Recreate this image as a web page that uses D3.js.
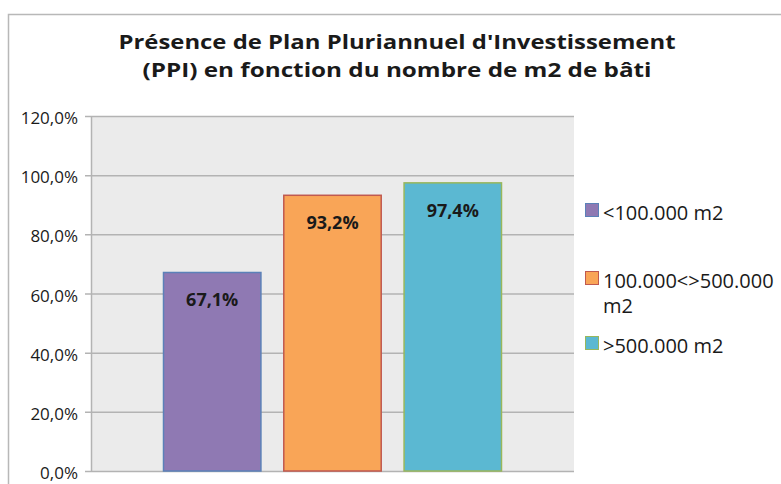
<!DOCTYPE html>
<html>
<head>
<meta charset="utf-8">
<script src="https://cdn.jsdelivr.net/npm/d3@7"></script>
<style>
  html, body { margin: 0; padding: 0; background: #fff; }
  svg { display: block; }
  text { font-family: "Open Sans", "DejaVu Sans", sans-serif; fill: #1a1a1a; }
</style>
</head>
<body>
<svg id="chart" width="781" height="484"></svg>
<script>
// Chart data
const titleLines = ["Présence de Plan Pluriannuel d'Investissement", "(PPI) en fonction du nombre de m2 de bâti"];
const series = ["<100.000 m2", "100.000<>500.000 m2", ">500.000 m2"];
const legendLines = [["<100.000 m2"], ["100.000<>500.000", "m2"], [">500.000 m2"]];
const values = [67.1, 93.2, 97.4];
const yTicks = [0, 20, 40, 60, 80, 100, 120];
const fills = ["#8f79b3", "#f9a557", "#5bb8d2"];
const strokes = ["#5b81b8", "#c0594f", "#98b75c"];

const svg = d3.select("#chart");
const plot = { left: 91, right: 574, top: 116, bottom: 471 };

// outer frame
svg.append("rect")
  .attr("x", 8.5).attr("y", 14.5).attr("width", 900).attr("height", 600)
  .attr("fill", "none").attr("stroke", "#b8b8b8").attr("stroke-width", 1.5);

// title, two lines
const title = svg.append("g");
const titleWidths = [557, 509];
titleLines.forEach((t, i) => {
  title.append("text")
    .attr("x", 397).attr("y", 49 + i * 27.5)
    .attr("text-anchor", "middle")
    .attr("font-size", 20).attr("font-weight", 700)
    .attr("textLength", titleWidths[i])
    .attr("lengthAdjust", "spacingAndGlyphs")
    .text(t);
});

// scales
const y = d3.scaleLinear().domain([0, 120]).range([plot.bottom, plot.top]);
const groupW = 338;
const gx0 = (plot.left + plot.right) / 2 - groupW / 2;
const x = d3.scaleBand().domain(series).range([gx0, gx0 + groupW]).paddingInner(0.19).paddingOuter(0);

// plot background
svg.append("rect")
  .attr("x", plot.left).attr("y", plot.top)
  .attr("width", plot.right - plot.left).attr("height", plot.bottom - plot.top)
  .attr("fill", "#ebebeb");

// gridlines and y axis
const yAxis = d3.axisLeft(y)
  .tickValues(yTicks)
  .tickSize(-(plot.right - plot.left))
  .tickSizeOuter(0)
  .tickPadding(13)
  .tickFormat(d => d.toFixed(1).replace(".", ",") + "%");

const ag = svg.append("g").attr("transform", `translate(${plot.left},0)`).call(yAxis);
ag.select(".domain").attr("stroke", "#b3b3b3").attr("stroke-width", 1.5);
ag.selectAll(".tick line").attr("stroke", "#b3b3b3").attr("stroke-width", 1.5).attr("x1", -6);
ag.selectAll(".tick text")
  .attr("font-size", 17).attr("fill", "#1a1a1a")
  .attr("font-family", "\"Open Sans\", sans-serif")
  .attr("dy", "0.45em");

// bars
svg.append("g").selectAll("rect")
  .data(values)
  .join("rect")
  .attr("x", (d, i) => x(series[i]))
  .attr("y", d => y(d))
  .attr("width", x.bandwidth())
  .attr("height", d => y(0) - y(d))
  .attr("fill", (d, i) => fills[i])
  .attr("stroke", (d, i) => strokes[i])
  .attr("stroke-width", 1.5);

// value labels
svg.append("g").selectAll("text")
  .data(values)
  .join("text")
  .attr("x", (d, i) => x(series[i]) + x.bandwidth() / 2)
  .attr("y", d => y(d) + 34)
  .attr("text-anchor", "middle")
  .attr("font-size", 18).attr("font-weight", 700)
  .text(d => d.toFixed(1).replace(".", ",") + "%");

// legend
const legendRows = [203, 271, 336];
const lg = svg.append("g");
series.forEach((s, i) => {
  lg.append("rect")
    .attr("x", 585.5).attr("y", legendRows[i] + 0.5)
    .attr("width", 13).attr("height", 13)
    .attr("fill", fills[i]).attr("stroke", strokes[i]).attr("stroke-width", 1);
  legendLines[i].forEach((line, j) => {
    lg.append("text")
      .attr("x", 603).attr("y", legendRows[i] + 17 + j * 25)
      .attr("font-size", 20)
      .text(line);
  });
});
</script>
</body>
</html>
